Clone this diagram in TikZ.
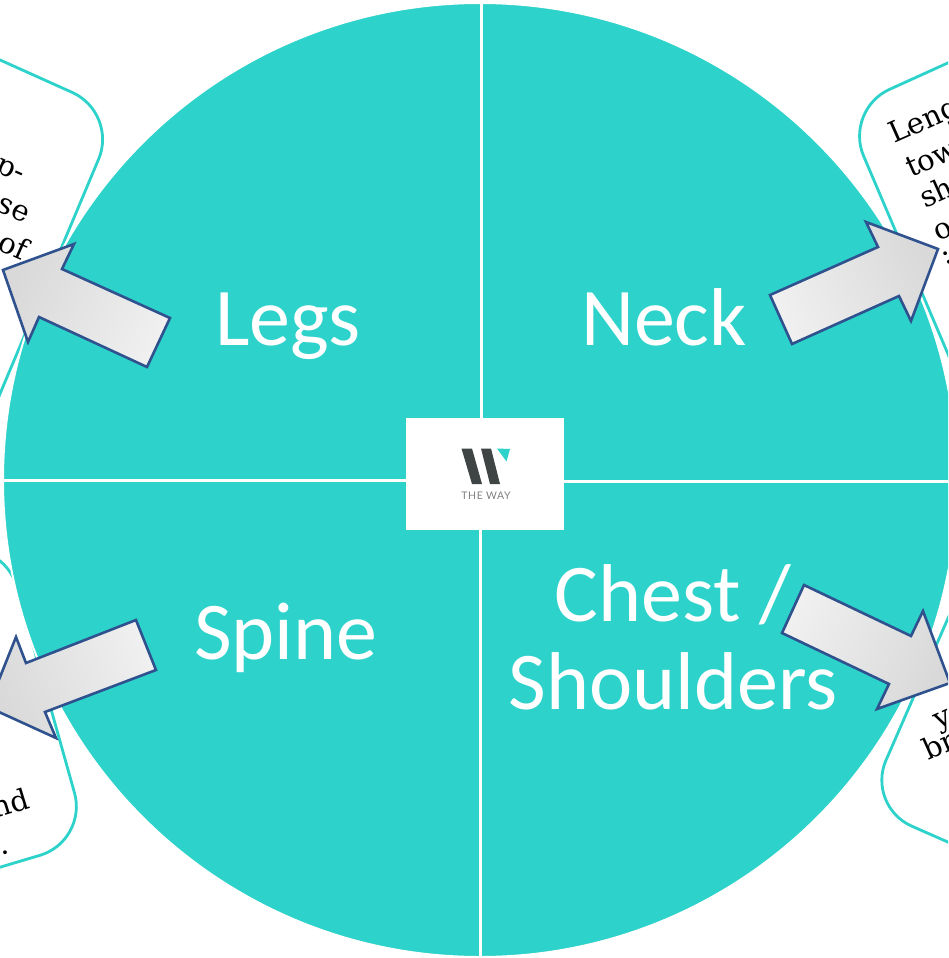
\documentclass[tikz,border=0pt]{standalone}
\usepackage{fontspec}
\setmainfont{Carlito}
\newfontfamily\slabfont{DejaVu Serif}
\newfontfamily\logofont[LetterSpace=6]{Lato}
\definecolor{teal1}{HTML}{2DD2CB}
\definecolor{arrowline}{HTML}{2F528F}
\definecolor{logodark}{HTML}{3F4545}
\tikzset{
  callout/.style={draw=teal1,fill=white,line width=2.8pt,rounded corners=50pt},
  segline/.style={draw=white,line width=3pt},
  bigarrow/.style={draw=arrowline,line width=2.6pt,line join=miter,shade,left color=#1},
  biglabel/.style={text=white,font=\fontsize{82}{88}\selectfont,align=center,inner sep=0pt},
  boxtext/.style={text=black,font=\slabfont\fontsize{29}{32}\selectfont,inner sep=0pt},
}
\begin{document}
\begin{tikzpicture}[x=1pt,y=-1pt]
\useasboundingbox (0,0) rectangle (948,958);
\begin{scope}
\clip (0,0) rectangle (948,958);
\fill[white] (0,0) rectangle (948,958);
% callouts
\draw[callout] (-100,15) -- (118,113) -- (-53,520);
\draw[callout] (1100,-6) -- (844,110) -- (1057,610);
\draw[callout] (-100,568) -- (3,538) -- (88,841) -- (-100,897);
\draw[callout] (997,506) -- (866,806) -- (1100,909);
% callout text
\node[boxtext,rotate=-24,anchor=base east] (t1) at (21,183) {p-};
\node[boxtext,rotate=-24,anchor=base east] (t2) at (25,224) {se};
\node[boxtext,rotate=-24,anchor=base east] (t3) at (22,261) {of};
\node[boxtext,rotate=24,anchor=base west] (t4) at (894,144) {Leng};
\node[boxtext,rotate=24,anchor=base west] (t5) at (911,178) {tow};
\node[boxtext,rotate=24,anchor=base west] (t6) at (925,209) {sh};
\node[boxtext,rotate=24,anchor=base west] (t7) at (938,242) {o};
\node[boxtext,rotate=24,anchor=base west] (t8) at (945,266) {:};
\node[boxtext,rotate=17,anchor=base east] (t9) at (31,808) {nd};
\node[boxtext,rotate=17,anchor=base east] (t10) at (11,853) {..};
\node[boxtext,rotate=24,anchor=base west] (t11) at (938,730) {y};
\node[boxtext,rotate=24,anchor=base west] (t12) at (928,761) {br};
% disc
\fill[teal1,draw=white,line width=2pt] (480,480) circle (477);
\draw[segline] (481,0) -- (481,480);
\draw[segline] (480,480) -- (480,958);
\draw[segline] (0,480) -- (480,480);
\draw[segline] (480,481) -- (948,481);
% logo
\fill[white] (406,418) rectangle (564,530);
\fill[logodark] (461.5,448.5) -- (472,448.5) -- (482,484) -- (472,484) -- cycle;
\fill[logodark] (481,448.5) -- (491,448.5) -- (500,484) -- (490,484) -- cycle;
\fill[teal1] (497,448.5) -- (510,449) -- (506.5,461.5) -- cycle;
\node[text=black!50,font=\logofont\fontsize{10.5}{12}\selectfont,inner sep=0pt] (logotext) at (486,496) {THE WAY};
% labels
\node[biglabel,anchor=base] (legs) at (288,345) {Legs};
\node[biglabel,anchor=base] (neck) at (664,345) {Neck};
\node[biglabel,anchor=base] (spine) at (286,659) {Spine};
\node[biglabel] (chest) at (673,637) {Chest /\\Shoulders};
% arrows
\path[bigarrow=black!15,right color=black!6,shading angle=65]
  (3,270) -- (74,244) -- (62,269) -- (170,318) -- (147,367) -- (39,317) -- (28,342) -- cycle;
\path[bigarrow=black!6,right color=black!15,shading angle=115]
  (938,249) -- (866,222) -- (878,247) -- (770,295) -- (792,344) -- (899,296) -- (911,321) -- cycle;
\path[bigarrow=black!6,right color=black!15,shading angle=65]
  (950,683) -- (923,611) -- (911,636) -- (804,585) -- (782,633) -- (889,684) -- (877,709) -- cycle;
\path[bigarrow=black!15,right color=black!6,shading angle=112]
  (-12,707) -- (16,637) -- (26,663) -- (136,620) -- (156,670) -- (45,712) -- (56,738) -- cycle;
\end{scope}
\end{tikzpicture}
\end{document}
